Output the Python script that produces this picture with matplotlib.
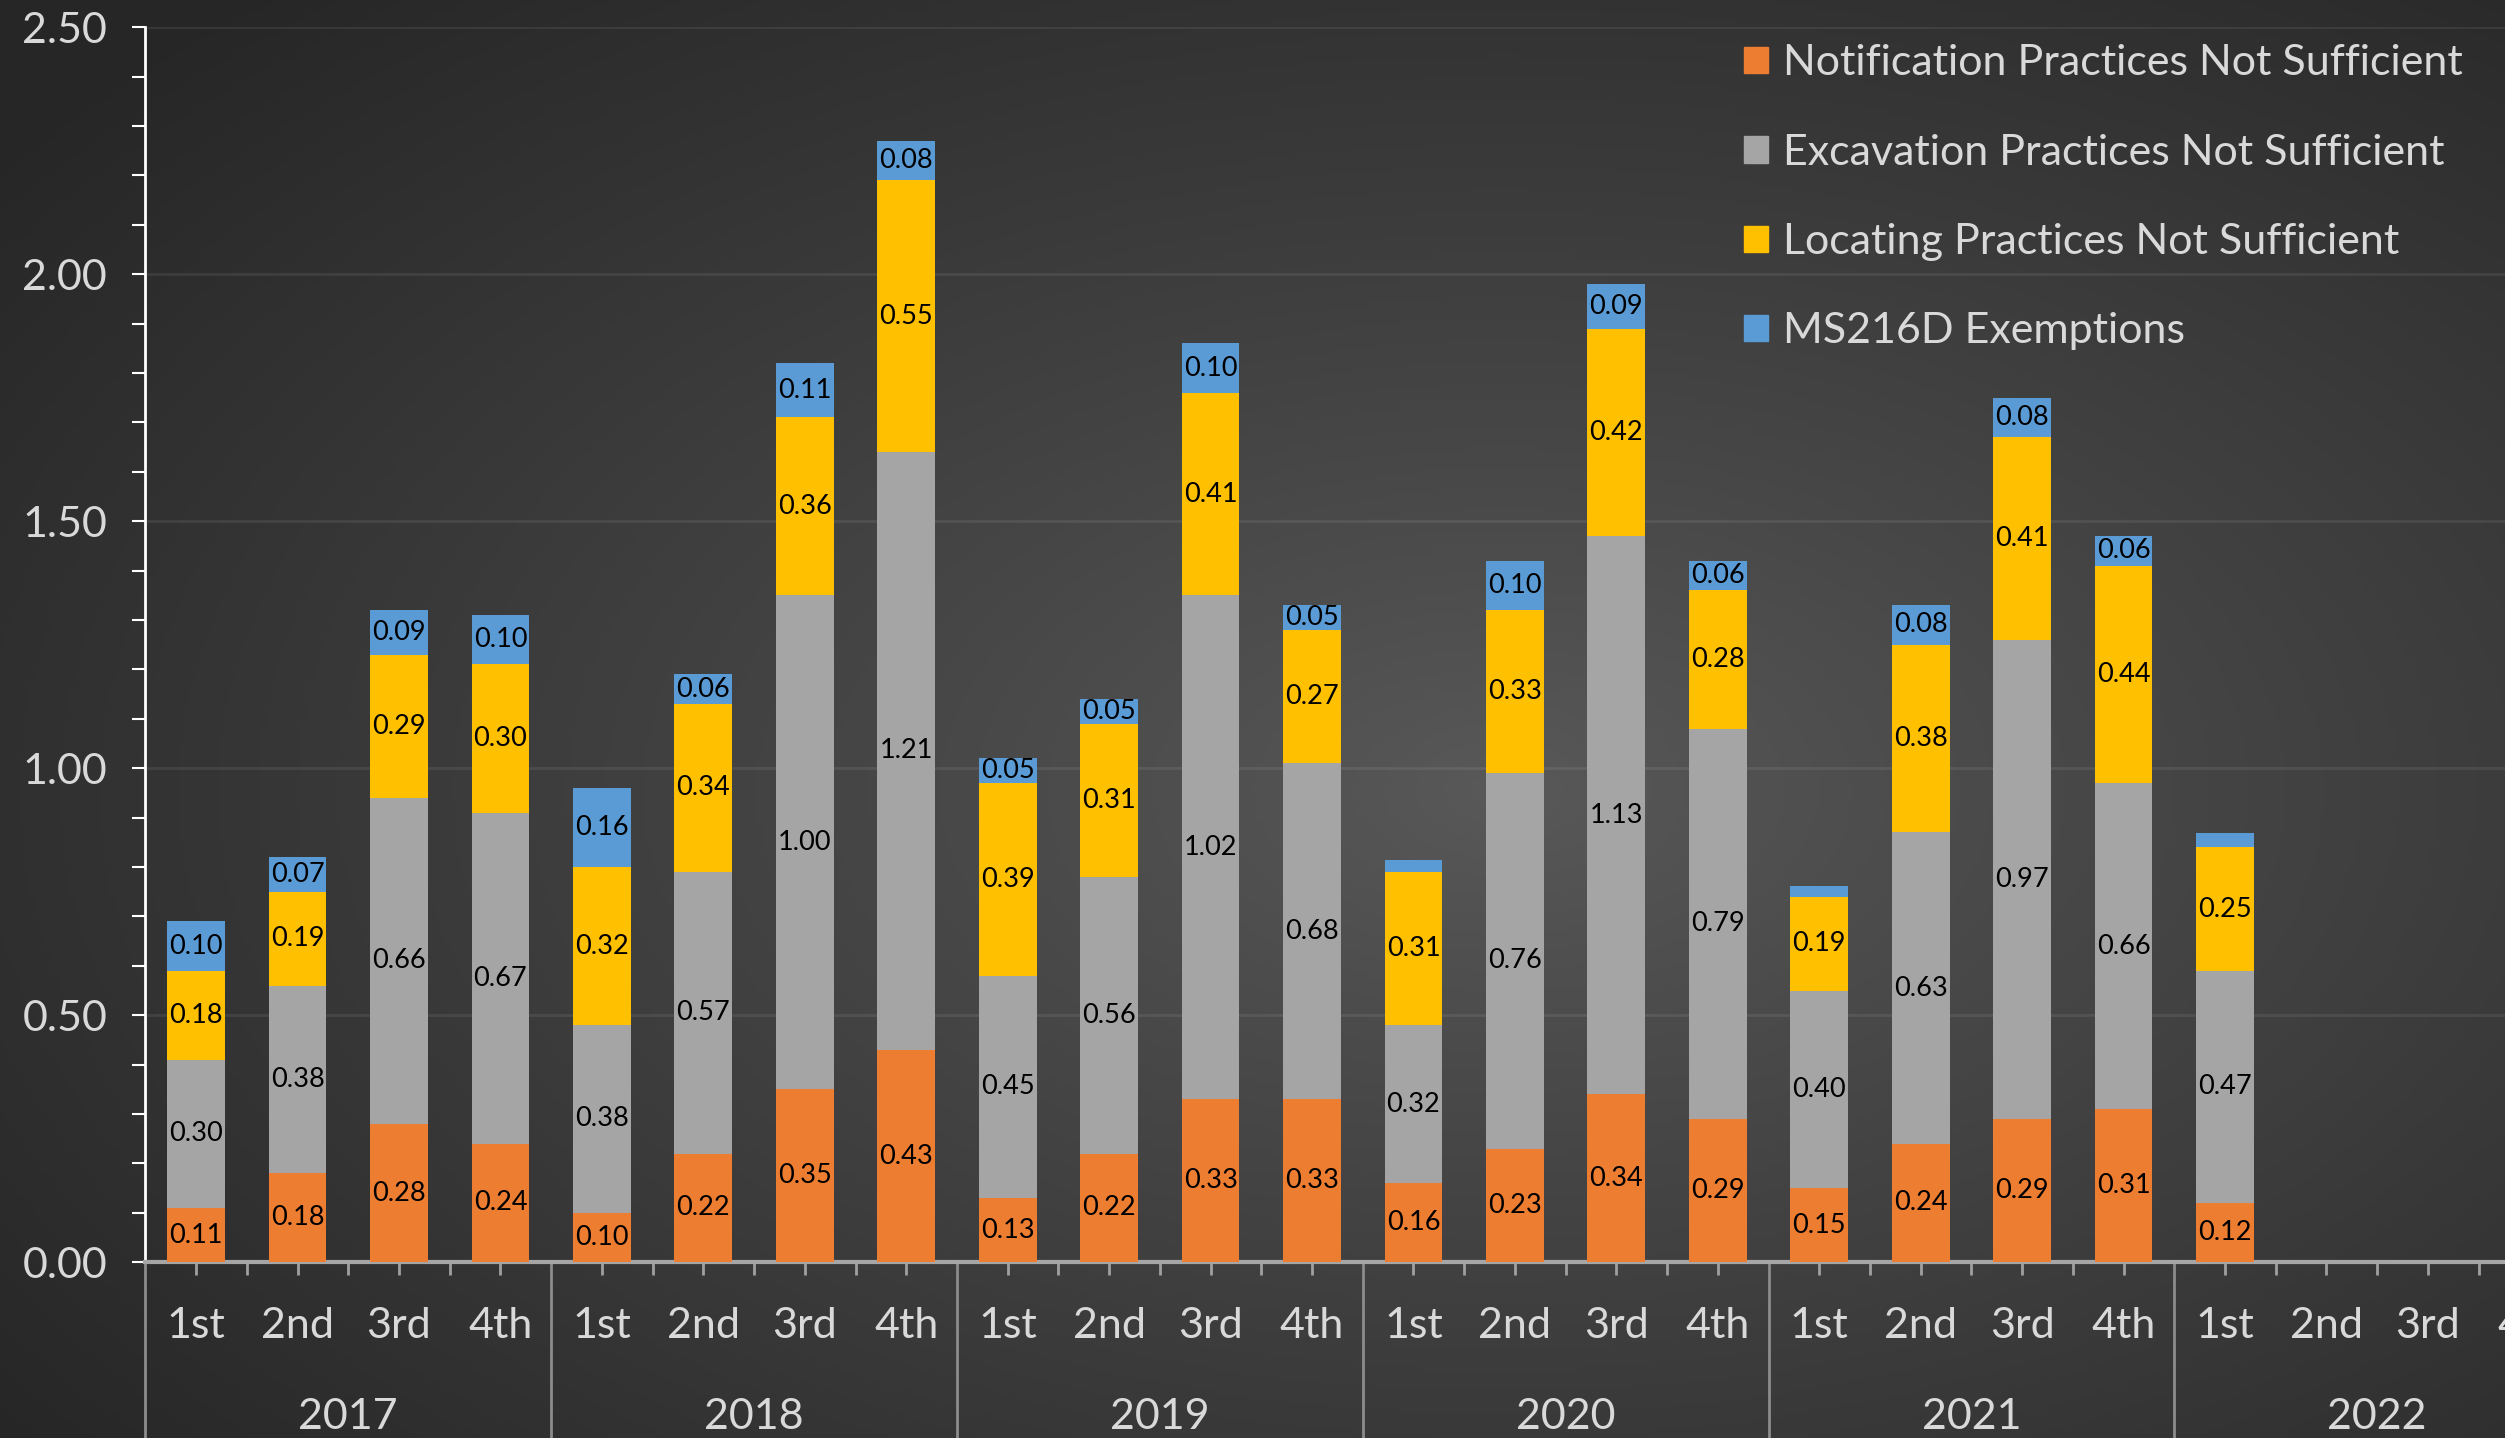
import numpy as np
import matplotlib.pyplot as plt
from matplotlib.patches import Patch
import matplotlib.transforms as mtransforms

plt.rcParams['font.family'] = ['Lato', 'DejaVu Sans']

years = ["2017", "2018", "2019", "2020", "2021", "2022"]
quarters = ["1st", "2nd", "3rd", "4th"]

notification = [0.11, 0.18, 0.28, 0.24,
                0.10, 0.22, 0.35, 0.43,
                0.13, 0.22, 0.33, 0.33,
                0.16, 0.23, 0.34, 0.29,
                0.15, 0.24, 0.29, 0.31,
                0.12, 0, 0, 0]
excavation = [0.30, 0.38, 0.66, 0.67,
              0.38, 0.57, 1.00, 1.21,
              0.45, 0.56, 1.02, 0.68,
              0.32, 0.76, 1.13, 0.79,
              0.40, 0.63, 0.97, 0.66,
              0.47, 0, 0, 0]
locating = [0.18, 0.19, 0.29, 0.30,
            0.32, 0.34, 0.36, 0.55,
            0.39, 0.31, 0.41, 0.27,
            0.31, 0.33, 0.42, 0.28,
            0.19, 0.38, 0.41, 0.44,
            0.25, 0, 0, 0]
exemptions = [0.10, 0.07, 0.09, 0.10,
              0.16, 0.06, 0.11, 0.08,
              0.05, 0.05, 0.10, 0.05,
              0.025, 0.10, 0.09, 0.06,
              0.022, 0.08, 0.08, 0.06,
              0.028, 0, 0, 0]

series = [
    ("Notification Practices Not Sufficient", notification, "#ED7D31"),
    ("Excavation Practices Not Sufficient", excavation, "#A5A5A5"),
    ("Locating Practices Not Sufficient", locating, "#FFC000"),
    ("MS216D Exemptions", exemptions, "#5B9BD5"),
]

W, H = 2505, 1438
fig = plt.figure(figsize=(W / 100, H / 100), dpi=100)

# dark background, lighter towards the middle
bg = fig.add_axes([0, 0, 1, 1], zorder=-10)
gx, gy = np.meshgrid(np.linspace(0, 1, 500), np.linspace(0, 1, 300))
d = np.sqrt(((gx - 0.6) / 0.75) ** 2 + ((gy - 0.55) / 0.75) ** 2)
d = np.clip(d, 0, 1)
shade = 0.35 - (0.35 - 0.15) * d ** 0.9
bg.imshow(np.dstack([shade] * 3), extent=[0, 1, 0, 1], aspect="auto", origin="upper")
bg.axis("off")

ax = fig.add_axes([91 / 1568, 1 - 790 / 900, 1524 / 1568, 773 / 900])
ax.patch.set_alpha(0)

x = np.arange(len(notification))
bottom = np.zeros(len(x))
for name, vals, col in series:
    vals = np.array(vals, dtype=float)
    ax.bar(x, vals, width=0.57, bottom=bottom, color=col, zorder=3)
    for xi, v, b in zip(x, vals, bottom):
        if v > 0.04:
            ax.text(xi, b + v / 2, f"{v:.2f}", ha="center", va="center",
                    fontsize=19.5, color="black", zorder=4)
    bottom += vals

ax.set_xlim(-0.5, len(x) - 0.5)
ax.set_ylim(0, 2.5)
ax.set_yticks(np.arange(0, 2.51, 0.5))
ax.set_yticks(np.arange(0, 2.51, 0.1), minor=True)
ax.set_yticklabels([f"{v:.2f}" for v in np.arange(0, 2.51, 0.5)])
ax.yaxis.grid(True, color="white", alpha=0.08, lw=2, zorder=0)
ax.tick_params(axis="y", which="both", colors="white", length=9.5, width=1.5,
               labelcolor="#D9D9D9", labelsize=31, pad=18)

ax.set_xticks(x)
ax.set_xticklabels([])
mids = [i + 0.5 for i in x if (i + 1) % 4 != 0]
ax.set_xticks(mids, minor=True)
ax.tick_params(axis="x", which="both", colors="#A0A0A0", length=9.5, width=2)

for s in ["top", "right"]:
    ax.spines[s].set_visible(False)
ax.spines["left"].set_color("white")
ax.spines["left"].set_linewidth(2)
ax.spines["bottom"].set_color("#A6A6A6")
ax.spines["bottom"].set_linewidth(3)

trans = mtransforms.blended_transform_factory(ax.transData, ax.transAxes)
for i in x:
    ax.text(i, -0.052, quarters[i % 4], transform=trans, ha="center", va="center",
            fontsize=31, color="#D9D9D9")
for g, yr in enumerate(years):
    ax.text(g * 4 + 1.5, -0.125, yr, transform=trans, ha="center", va="center",
            fontsize=31, color="#D9D9D9")
for g in range(len(years) + 1):
    ax.plot([g * 4 - 0.5] * 2, [0, -0.2], transform=trans, color="#8C8C8C",
            lw=2, clip_on=False, zorder=2)

handles = [Patch(color=c) for _, _, c in series]
labels = [n for n, _, _ in series]
leg = fig.legend(handles, labels, loc="upper left", bbox_to_anchor=(1081 / 1568, 1 - 17 / 900),
                 frameon=False, fontsize=31, labelcolor="#D9D9D9",
                 handlelength=0.56, handleheight=0.56, handletextpad=0.33,
                 labelspacing=1.19, borderaxespad=0)

fig.savefig("out.png", dpi=100)
